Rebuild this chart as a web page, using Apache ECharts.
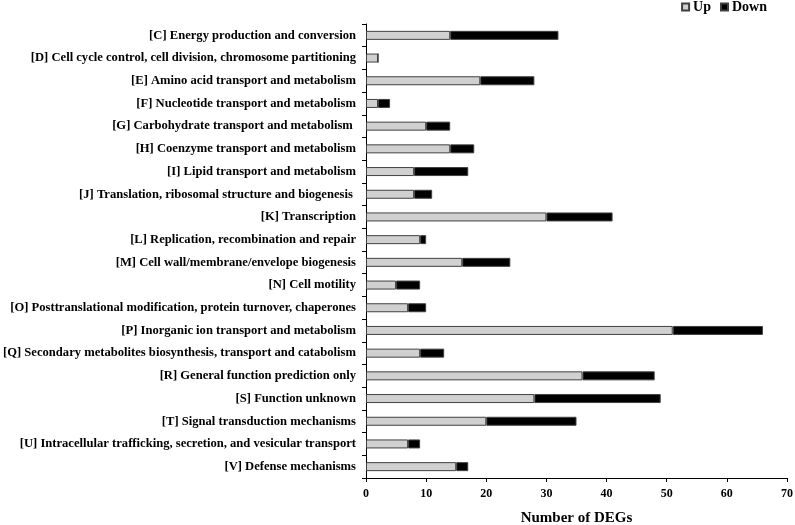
<!DOCTYPE html>
<html>
<head>
<meta charset="utf-8">
<script src="https://cdn.jsdelivr.net/npm/echarts@6/dist/echarts.min.js"></script>
<style>
  html, body { margin: 0; padding: 0; background: #fff; }
  #chart { width: 795px; height: 525px; }
</style>
</head>
<body>
<div id="chart"></div>
<script>
const categories = [
    '[C] Energy production and conversion',
    '[D] Cell cycle control, cell division, chromosome partitioning',
    '[E] Amino acid transport and metabolism',
    '[F] Nucleotide transport and metabolism',
    '[G] Carbohydrate transport and metabolism ',
    '[H] Coenzyme transport and metabolism',
    '[I] Lipid transport and metabolism',
    '[J] Translation, ribosomal structure and biogenesis ',
    '[K] Transcription',
    '[L] Replication, recombination and repair',
    '[M] Cell wall/membrane/envelope biogenesis',
    '[N] Cell motility',
    '[O] Posttranslational modification, protein turnover, chaperones',
    '[P] Inorganic ion transport and metabolism',
    '[Q] Secondary metabolites biosynthesis, transport and catabolism',
    '[R] General function prediction only',
    '[S] Function unknown',
    '[T] Signal transduction mechanisms',
    '[U] Intracellular trafficking, secretion, and vesicular transport',
    '[V] Defense mechanisms'
];
const upValues = [14, 2, 19, 2, 10, 14, 8, 8, 30, 9, 16, 5, 7, 51, 9, 36, 28, 20, 7, 15];
const downValues = [18, 0, 9, 2, 4, 4, 9, 3, 11, 1, 8, 4, 3, 15, 4, 12, 21, 15, 2, 2];

const serif = '"Liberation Serif", "DejaVu Serif", serif';

let chart = echarts.init(document.getElementById('chart'));

const option = {
    backgroundColor: '#fff',
    animation: false,
    legend: {
        top: 0,
        right: 25,
        padding: [0, 3],
        itemWidth: 7,
        itemHeight: 7,
        itemGap: 9,
        icon: 'rect',
        textStyle: {
            fontFamily: serif,
            fontWeight: 'bold',
            fontSize: 14,
            color: '#000',
            padding: [0, 0, 0, -1]
        },
        data: ['Up', 'Down']
    },
    grid: {
        top: 24,
        left: 366,
        right: 8,
        bottom: 47,
        outerBoundsMode: 'none'
    },
    xAxis: {
        type: 'value',
        min: 0,
        max: 70,
        interval: 10,
        name: 'Number of DEGs',
        nameLocation: 'middle',
        nameGap: 33,
        nameTextStyle: {
            fontFamily: serif,
            fontWeight: 'bold',
            fontSize: 15,
            color: '#000'
        },
        axisLine: { show: true, lineStyle: { color: '#000', width: 1 } },
        axisTick: { show: true, inside: false, length: 4, lineStyle: { color: '#000' } },
        axisLabel: {
            fontFamily: serif,
            fontWeight: 'bold',
            fontSize: 12,
            color: '#000',
            margin: 10
        },
        splitLine: { show: false }
    },
    yAxis: {
        type: 'category',
        inverse: true,
        data: categories,
        axisLine: { show: true, lineStyle: { color: '#000', width: 1 } },
        axisTick: { show: true, inside: false, length: 4, lineStyle: { color: '#000' } },
        axisLabel: {
            fontFamily: serif,
            fontWeight: 'bold',
            fontSize: 12.6,
            color: '#000',
            margin: 10
        }
    },
    series: [
        {
            name: 'Up',
            type: 'bar',
            stack: 'total',
            barWidth: 9,
            data: upValues,
            itemStyle: { color: '#d0d0d0', borderColor: '#404040', borderWidth: 1 }
        },
        {
            name: 'Down',
            type: 'bar',
            stack: 'total',
            barWidth: 9,
            data: downValues,
            itemStyle: { color: '#000', borderColor: '#404040', borderWidth: 1 }
        }
    ]
};

chart.setOption(option);

window.addEventListener('resize', function () {
    chart.resize();
});
</script>
</body>
</html>
